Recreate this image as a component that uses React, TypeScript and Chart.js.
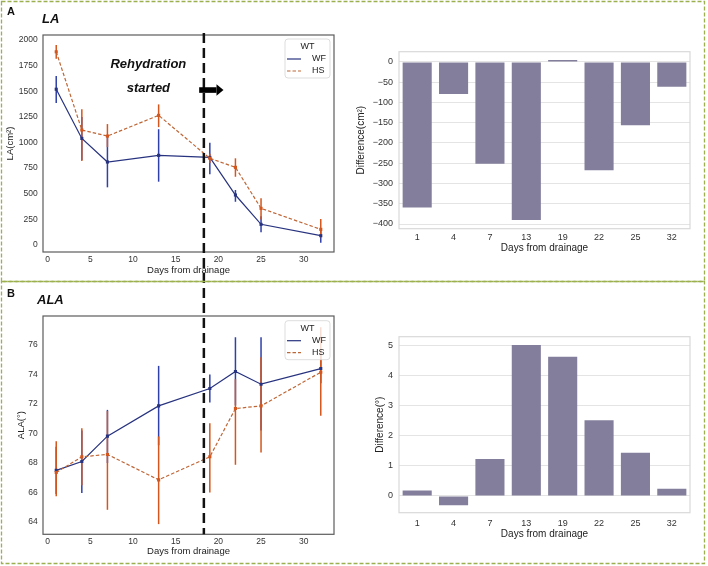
import React, { useEffect, useRef } from "react";
import { Chart, registerables } from "chart.js";

Chart.register(...registerables);

const FONT = "'Liberation Sans', Arial, Helvetica, sans-serif";

// ---------- data ----------
const days = [1, 4, 7, 13, 19, 22, 25, 32];
const dayLabels = ["1", "4", "7", "13", "19", "22", "25", "32"];
const groupNames = ["WF", "HS"];
const legendTitle = "WT";

const laWF = [1520, 1040, 810, 875, 855, 488, 202, 91];
const laWFLow = [1385, 830, 563, 618, 690, 422, 124, 22];
const laWFHigh = [1650, 1250, 1057, 1130, 998, 537, 280, 146];
const laHS = [1885, 1122, 1063, 1265, 846, 758, 358, 153];
const laHSLow = [1818, 820, 955, 1150, 800, 666, 250, 75];
const laHSHigh = [1951, 1324, 1180, 1372, 890, 846, 456, 254];
const laDiff = [-359, -79, -251, -390, 5, -267, -156, -61];

const alaWF = [67.5, 68.1, 69.82, 71.87, 73.05, 74.2, 73.34, 74.4];
const alaWFLow = [65.9, 65.96, 68.0, 69.2, 72.1, 71.9, 70.2, 73.4];
const alaWFHigh = [69.1, 70.2, 71.6, 74.58, 73.99, 76.52, 76.52, 75.4];
const alaHS = [67.36, 68.42, 68.58, 66.86, 68.42, 71.69, 71.87, 74.15];
const alaHSLow = [65.74, 66.5, 64.83, 63.86, 66.0, 67.88, 68.71, 71.2];
const alaHSHigh = [69.48, 70.36, 71.53, 69.8, 70.7, 73.68, 75.17, 77.2];
const alaDiff = [0.18, -0.31, 1.23, 5.02, 4.63, 2.52, 1.44, 0.24];

const lineXTicks = [0, 5, 10, 15, 20, 25, 30];
const laTicks = [0, 250, 500, 750, 1000, 1250, 1500, 1750, 2000];
const alaTicks = [64, 66, 68, 70, 72, 74, 76];
const laDiffTicks = [-400, -350, -300, -250, -200, -150, -100, -50, 0];
const alaDiffTicks = [0, 1, 2, 3, 4, 5];

const rehydrationDay = 18.3;
const noteLines = ["Rehydration", "started"];

// ---------- styles ----------
const WF_LINE = "#27337f";
const WF_ERR = "#2f40a8";
const HS_LINE = "#bf6636";
const HS_ERR = "#d4561c";
const BAR = "#837e9b";
const GREEN = "#9db04f";
const TICK = "#333";

const fmt = (v: number) => String(v).replace("-", "\u2212");

function makeLineConfig(p: any) {
  const tickFont = { family: FONT, size: 8.5 };
  const decor = {
    id: "decor" + p.letter,
    beforeDatasetsDraw(chart: any) {
      const { ctx, scales } = chart;
      const x = scales.x, y = scales.y;
      ctx.save();
      const series = [
        { lo: p.wfLow, hi: p.wfHigh, color: WF_ERR },
        { lo: p.hsLow, hi: p.hsHigh, color: HS_ERR },
      ];
      for (const s of series) {
        ctx.strokeStyle = s.color;
        ctx.lineWidth = 1.5;
        days.forEach((d, i) => {
          const px = x.getPixelForValue(d);
          ctx.beginPath();
          ctx.moveTo(px, y.getPixelForValue(s.lo[i]));
          ctx.lineTo(px, y.getPixelForValue(s.hi[i]));
          ctx.stroke();
        });
      }
      ctx.restore();
    },
    afterDraw(chart: any) {
      const { ctx, chartArea: a, scales } = chart;
      const x = scales.x, y = scales.y;
      ctx.save();
      // frame
      ctx.strokeStyle = "#5c5c5c";
      ctx.lineWidth = 1.2;
      ctx.strokeRect(a.left, a.top, a.right - a.left, a.bottom - a.top);

      // legend
      const bw = 45, bh = 39;
      const bx = a.right - 4 - bw, by = a.top + p.legendInset;
      ctx.beginPath();
      (ctx as any).roundRect(bx, by, bw, bh, 3);
      ctx.fillStyle = "rgba(255,255,255,0.8)";
      ctx.fill();
      ctx.strokeStyle = "#d4d4d4";
      ctx.lineWidth = 0.8;
      ctx.stroke();
      ctx.fillStyle = "#222";
      ctx.textBaseline = "middle";
      ctx.textAlign = "center";
      ctx.font = `9px ${FONT}`;
      ctx.fillText(legendTitle, bx + bw / 2, by + 8);
      const ds = chart.data.datasets;
      groupNames.forEach((name: string, k: number) => {
        const d = ds.find((q: any) => q.label === name);
        const ly = by + 20 + k * 12;
        ctx.strokeStyle = d.borderColor;
        ctx.lineWidth = 1.2;
        ctx.setLineDash(d.borderDash || []);
        ctx.beginPath();
        ctx.moveTo(bx + 2, ly);
        ctx.lineTo(bx + 16, ly);
        ctx.stroke();
        ctx.setLineDash([]);
        ctx.textAlign = "left";
        ctx.fillStyle = "#222";
        ctx.fillText(name, bx + 27, ly);
      });

      // rehydration dashed line
      const vx = x.getPixelForValue(rehydrationDay);
      ctx.setLineDash([10, 5]);
      ctx.lineDashOffset = p.dashOffset;
      ctx.lineWidth = 2.5;
      ctx.strokeStyle = "#111";
      ctx.beginPath();
      ctx.moveTo(vx, p.vTop);
      ctx.lineTo(vx, p.vToCanvasBottom ? chart.height : a.bottom);
      ctx.stroke();
      ctx.setLineDash([]);

      // panel letter and title
      ctx.fillStyle = "#111";
      ctx.textAlign = "left";
      ctx.font = `bold 11px ${FONT}`;
      ctx.fillText(p.letter, 7, p.letterY);
      ctx.font = `italic bold 13px ${FONT}`;
      ctx.fillText(p.title, p.titleX, p.titleY);

      // annotation
      if (p.note) {
        const n = p.note;
        ctx.textAlign = "center";
        ctx.font = `italic bold 13px ${FONT}`;
        ctx.fillText(noteLines[0], x.getPixelForValue(n.x), y.getPixelForValue(n.y1));
        ctx.fillText(noteLines[1], x.getPixelForValue(n.x), y.getPixelForValue(n.y2));
        const ax0 = x.getPixelForValue(n.ax0);
        const ax1 = x.getPixelForValue(n.ax1);
        const ay = y.getPixelForValue(n.ay);
        const head = 7;
        ctx.fillStyle = "#000";
        ctx.fillRect(ax0, ay - 2.8, ax1 - head - ax0, 5.6);
        ctx.beginPath();
        ctx.moveTo(ax1 - head, ay - 5.8);
        ctx.lineTo(ax1, ay);
        ctx.lineTo(ax1 - head, ay + 5.8);
        ctx.closePath();
        ctx.fill();
      }
      ctx.restore();
    },
  };

  return {
    type: "line",
    data: {
      datasets: [
        {
          label: "WF",
          data: days.map((d, i) => ({ x: d, y: p.wf[i] })),
          borderColor: WF_LINE,
          backgroundColor: WF_LINE,
          borderWidth: 1.2,
          pointStyle: "rect",
          pointRadius: 2.2,
          pointBorderWidth: 0,
          pointBackgroundColor: WF_LINE,
          tension: 0,
          order: 1,
        },
        {
          label: "HS",
          data: days.map((d, i) => ({ x: d, y: p.hs[i] })),
          borderColor: HS_LINE,
          backgroundColor: HS_LINE,
          borderDash: [3.5, 2],
          borderWidth: 1.2,
          pointStyle: "rect",
          pointRadius: 2.2,
          pointBorderWidth: 0,
          pointBackgroundColor: HS_ERR,
          tension: 0,
          order: 0,
        },
      ],
    },
    options: {
      responsive: false,
      animation: false,
      layout: { padding: { left: 0, top: p.padTop, right: 16, bottom: 0 } },
      plugins: { legend: { display: false }, tooltip: { enabled: false } },
      scales: {
        x: {
          type: "linear",
          min: -0.55,
          max: 33.55,
          afterBuildTicks: (s: any) => {
            s.ticks = lineXTicks.map((v) => ({ value: v }));
          },
          afterFit: (s: any) => {
            s.height = p.height - p.areaBottom;
          },
          grid: { display: false, drawTicks: false },
          border: { display: false },
          ticks: { font: tickFont, color: TICK, padding: p.xTickPad, maxRotation: 0, autoSkip: false, callback: (v: any) => String(v) },
          title: {
            display: true,
            text: "Days from drainage",
            font: { family: FONT, size: 9.5 },
            color: "#222",
            padding: { top: 0, bottom: p.xTitlePad },
          },
        },
        y: {
          type: "linear",
          min: p.yMin,
          max: p.yMax,
          afterBuildTicks: (s: any) => {
            s.ticks = p.yTicks.map((v: number) => ({ value: v }));
          },
          afterFit: (s: any) => {
            s.width = 43;
          },
          grid: { display: false, drawTicks: false },
          border: { display: false },
          ticks: { font: tickFont, color: TICK, padding: 5.3, autoSkip: false, callback: (v: any) => String(v) },
          title: {
            display: true,
            text: p.yTitle,
            font: { family: FONT, size: 9.5 },
            color: "#222",
            padding: { top: p.yTitlePad, bottom: 0 },
          },
        },
      },
    },
    plugins: [decor],
  };
}

function makeBarConfig(p: any) {
  const tickFont = { family: FONT, size: 9 };
  const frame = {
    id: "frame" + p.id,
    afterDraw(chart: any) {
      const { ctx, chartArea: a } = chart;
      ctx.save();
      ctx.strokeStyle = "#d9d9d9";
      ctx.lineWidth = 1.2;
      ctx.strokeRect(a.left, a.top, a.right - a.left, a.bottom - a.top);
      ctx.restore();
    },
  };
  return {
    type: "bar",
    data: {
      labels: dayLabels,
      datasets: [
        {
          data: p.values,
          backgroundColor: BAR,
          borderWidth: 0,
          barPercentage: 0.8,
          categoryPercentage: 1,
        },
      ],
    },
    options: {
      responsive: false,
      animation: false,
      layout: { padding: { left: 0, top: p.padTop, right: 18, bottom: 0 } },
      plugins: { legend: { display: false }, tooltip: { enabled: false } },
      scales: {
        x: {
          afterFit: (s: any) => {
            s.height = p.height - p.areaBottom;
          },
          grid: { display: false, drawTicks: false },
          border: { display: false },
          ticks: { font: tickFont, color: TICK, padding: p.xTickPad, maxRotation: 0, autoSkip: false },
          title: {
            display: true,
            text: "Days from drainage",
            font: { family: FONT, size: 10 },
            color: "#222",
            padding: { top: 0, bottom: p.xTitlePad },
          },
        },
        y: {
          min: p.yMin,
          max: p.yMax,
          afterBuildTicks: (s: any) => {
            s.ticks = p.yTicks.map((v: number) => ({ value: v }));
          },
          afterFit: (s: any) => {
            s.width = 49;
          },
          grid: { color: "#e4e4e4", lineWidth: 1, drawTicks: false },
          border: { display: false },
          ticks: { font: tickFont, color: TICK, padding: 6, autoSkip: false, callback: (v: any) => fmt(v) },
          title: {
            display: true,
            text: p.yTitle,
            font: { family: FONT, size: 10 },
            color: "#222",
            padding: { top: p.yTitlePad, bottom: 0 },
          },
        },
      },
    },
    plugins: [frame],
  };
}

const panelLA = {
  letter: "A", title: "LA", letterY: 12, titleX: 42, titleY: 19.5,
  wf: laWF, wfLow: laWFLow, wfHigh: laWFHigh, hs: laHS, hsLow: laHSLow, hsHigh: laHSHigh,
  yMin: -68, yMax: 2049, yTicks: laTicks, yTitle: "LA(cm\u00B2)",
  padTop: 35, areaBottom: 252, height: 280,
  xTickPad: 3, xTitlePad: 4.3, yTitlePad: 4.3, legendInset: 4,
  vTop: 33, vToCanvasBottom: true, dashOffset: 0,
  note: { x: 11.8, y1: 1766, y2: 1532, ax0: 17.75, ax1: 20.6, ay: 1512 },
};

const panelALA = {
  letter: "B", title: "ALA", letterY: 14, titleX: 37, titleY: 20,
  wf: alaWF, wfLow: alaWFLow, wfHigh: alaWFHigh, hs: alaHS, hsLow: alaHSLow, hsHigh: alaHSHigh,
  yMin: 63.17, yMax: 77.96, yTicks: alaTicks, yTitle: "ALA(\u00B0)",
  padTop: 36, areaBottom: 254.3, height: 286,
  xTickPad: 2.3, xTitlePad: 8.6, yTitlePad: 16, legendInset: 4.7,
  vTop: 0, vToCanvasBottom: false, dashOffset: 7,
  note: null,
};

const barLA = {
  id: "A", values: laDiff, yMin: -411.6, yMax: 25.4, yTicks: laDiffTicks, yTitle: "Difference(cm\u00B2)",
  padTop: 51.7, areaBottom: 228.7, height: 280, xTickPad: 3.6, xTitlePad: 26, yTitlePad: 5.5,
};

const barALA = {
  id: "B", values: alaDiff, yMin: -0.556, yMax: 5.3, yTicks: alaDiffTicks, yTitle: "Difference(\u00B0)",
  padTop: 56.7, areaBottom: 232.7, height: 286, xTickPad: 5.2, xTitlePad: 26, yTitlePad: 24,
};

export default function App() {
  const r1 = useRef<HTMLCanvasElement>(null);
  const r2 = useRef<HTMLCanvasElement>(null);
  const r3 = useRef<HTMLCanvasElement>(null);
  const r4 = useRef<HTMLCanvasElement>(null);

  useEffect(() => {
    const charts = [
      new Chart(r1.current as HTMLCanvasElement, makeLineConfig(panelLA) as any),
      new Chart(r2.current as HTMLCanvasElement, makeBarConfig(barLA) as any),
      new Chart(r3.current as HTMLCanvasElement, makeLineConfig(panelALA) as any),
      new Chart(r4.current as HTMLCanvasElement, makeBarConfig(barALA) as any),
    ];
    return () => charts.forEach((c) => c.destroy());
  }, []);

  const abs = (l: number, t: number): React.CSSProperties => ({ position: "absolute", left: l, top: t });

  return (
    <div style={{ position: "absolute", left: 0, top: 0, width: 708, height: 566, background: "#fff", overflow: "hidden" }}>
      <canvas ref={r1} width={350} height={280} style={abs(0, 0)} />
      <canvas ref={r2} width={358} height={280} style={abs(350, 0)} />
      <canvas ref={r3} width={350} height={286} style={abs(0, 280)} />
      <canvas ref={r4} width={358} height={286} style={abs(350, 280)} />
      <svg width={708} height={566} style={{ position: "absolute", left: 0, top: 0, pointerEvents: "none" }}>
        <rect x={1.5} y={1.5} width={703} height={280} fill="none" stroke={GREEN} strokeWidth={1.3} strokeDasharray="4 2" />
        <rect x={1.5} y={281.5} width={703} height={282} fill="none" stroke={GREEN} strokeWidth={1.3} strokeDasharray="4 2" />
      </svg>
    </div>
  );
}
